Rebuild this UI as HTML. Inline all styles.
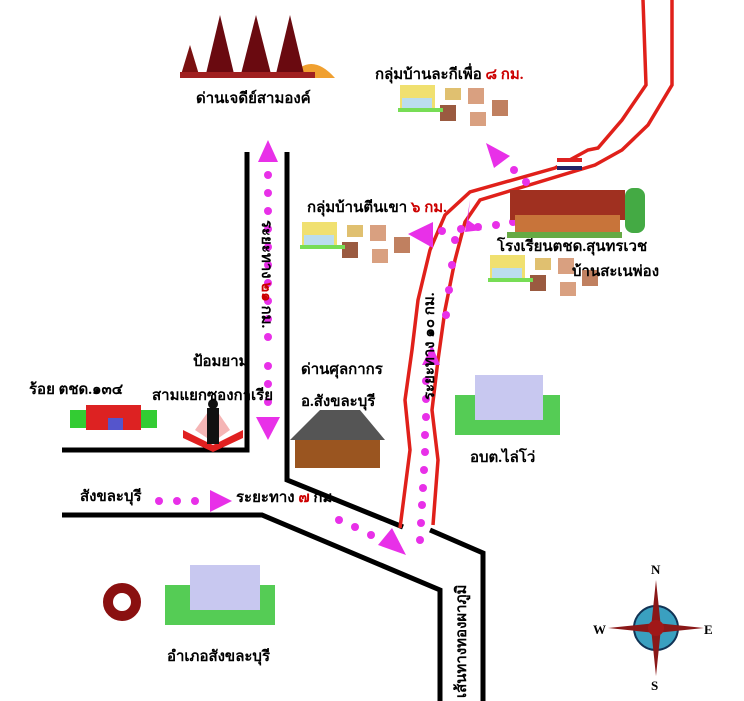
<!DOCTYPE html>
<html><head><meta charset="utf-8"><style>
body{margin:0;background:#fff}
svg{display:block}
text{font-family:"Liberation Serif","Noto Serif CJK SC",serif;font-weight:bold;fill:#000}
</style></head><body>
<svg width="744" height="701" viewBox="0 0 744 701" xmlns="http://www.w3.org/2000/svg">
<g stroke="#000" stroke-width="5" fill="none">
<polyline points="247,152 247,450 62,450"/>
<polyline points="287,152 287,480 403,527"/>
<polyline points="430,530 483,553 483,701"/>
<polyline points="62,515 262,515 440,590 440,701"/>
</g>
<g stroke="#e0201a" stroke-width="3.5" fill="none">
<polyline points="643,0 646,85 622,120 598,148 588,150 555,168 470,192 445,215 430,250 418,300 412,350 405,400 410,450 400,528"/>
<polyline points="672,0 672,85 648,125 622,150 595,165 480,200 465,222 455,260 445,310 438,360 432,410 438,460 433,525"/>
</g>
<g fill="#e830e8">
<circle cx="268" cy="175" r="4"/><circle cx="268" cy="193" r="4"/><circle cx="268" cy="211" r="4"/><circle cx="268" cy="229" r="4"/><circle cx="268" cy="247" r="4"/><circle cx="268" cy="265" r="4"/><circle cx="268" cy="283" r="4"/><circle cx="268" cy="301" r="4"/><circle cx="268" cy="319" r="4"/><circle cx="268" cy="337" r="4"/><circle cx="268" cy="366" r="4"/><circle cx="268" cy="384" r="4"/><circle cx="268" cy="402" r="4"/>
<circle cx="159" cy="501" r="4"/><circle cx="177" cy="501" r="4"/><circle cx="195" cy="501" r="4"/>
<circle cx="339" cy="520" r="4"/><circle cx="355" cy="527" r="4"/><circle cx="371" cy="535" r="4"/>
<circle cx="420" cy="540" r="4"/><circle cx="421" cy="523" r="4"/><circle cx="422" cy="505" r="4"/><circle cx="423" cy="488" r="4"/><circle cx="424" cy="470" r="4"/><circle cx="425" cy="452" r="4"/><circle cx="425" cy="435" r="4"/><circle cx="426" cy="417" r="4"/><circle cx="426" cy="399" r="4"/><circle cx="426" cy="381" r="4"/>
<circle cx="446" cy="315" r="4"/><circle cx="449" cy="290" r="4"/><circle cx="452" cy="265" r="4"/><circle cx="455" cy="240" r="4"/><circle cx="461" cy="229" r="4"/><circle cx="442" cy="231" r="4"/><circle cx="478" cy="227" r="4"/><circle cx="496" cy="225" r="4"/><circle cx="513" cy="222" r="4"/>
<circle cx="514" cy="170" r="4"/><circle cx="526" cy="182" r="4"/>
</g>
<g fill="#e830e8">
<polygon points="268,140 258,162 278,162"/>
<polygon points="256,417 280,417 268,440"/>
<polygon points="210,490 210,512 232,501"/>
<polygon points="378,545 406,555 392,528"/>
<polygon points="422,365 440,365 432,345"/>
<polygon points="408,234 433,222 433,248"/>
<polygon points="468,220 482,230 465,232 470,200"/>
<polygon points="486,143 510,156 494,168"/>
</g>
<g>
<path d="M290,78 Q310,50 335,78 Z" fill="#f0a030"/>
<polygon points="180,78 190,45 200,78" fill="#7a1010"/>
<polygon points="205,78 220,15 235,78" fill="#6a0a10"/>
<polygon points="240,78 256,15 272,78" fill="#6a0a10"/>
<polygon points="275,78 290,15 305,78" fill="#6a0a10"/>
<rect x="180" y="72" width="135" height="6" fill="#a02020"/>
</g>
<g id="v">
<rect x="400" y="85" width="35" height="25" fill="#f0e070"/><rect x="402" y="98" width="30" height="14" fill="#bde"/>
<rect x="445" y="88" width="16" height="12" fill="#e0c070"/><rect x="468" y="88" width="16" height="16" fill="#d9a080"/>
<rect x="440" y="105" width="16" height="16" fill="#9a5a40"/><rect x="470" y="112" width="16" height="14" fill="#d9a080"/><rect x="492" y="100" width="16" height="16" fill="#c08060"/>
<rect x="398" y="108" width="45" height="4" fill="#7d5"/>
</g>
<use href="#v" transform="translate(-98,137)"/>
<use href="#v" transform="translate(90,170)"/>
<rect x="510" y="190" width="115" height="30" fill="#a03020"/>
<rect x="515" y="215" width="105" height="20" fill="#c8743a"/>
<rect x="625" y="188" width="20" height="45" fill="#4a4" rx="8"/>
<rect x="507" y="232" width="115" height="6" fill="#6a4"/>
<rect x="557" y="158" width="25" height="4" fill="#d22"/><rect x="557" y="162" width="25" height="4" fill="#fff"/><rect x="557" y="166" width="25" height="4" fill="#226"/>
<rect x="70" y="410" width="87" height="18" fill="#3c3" /><rect x="86" y="405" width="55" height="25" fill="#d22"/><rect x="108" y="418" width="15" height="12" fill="#55c"/>
<polygon points="183,430 213,445 243,430 243,438 213,452 183,438" fill="#e02020"/>
<polygon points="195,430 213,405 230,430 213,442" fill="#f5b5b5"/>
<rect x="207" y="408" width="12" height="36" fill="#111"/><circle cx="213" cy="404" r="5" fill="#111"/>
<polygon points="290,440 320,410 360,410 385,440" fill="#555"/>
<rect x="295" y="440" width="85" height="28" fill="#9a5520"/>
<rect x="455" y="395" width="105" height="40" fill="#5c5"/><rect x="475" y="375" width="68" height="45" fill="#c8c8f0"/>
<rect x="165" y="585" width="110" height="40" fill="#5c5"/><rect x="190" y="565" width="70" height="45" fill="#c8c8f0"/>
<circle cx="122" cy="602" r="14" fill="none" stroke="#8a1010" stroke-width="10"/>
<g transform="translate(656,628)">
<circle r="22" fill="#3aa0c0" stroke="#135" stroke-width="2"/>
<polygon points="0,-48 5,0 0,48 -5,0" fill="#8a1818"/>
<polygon points="-48,0 0,5 48,0 0,-5" fill="#8a1818"/>
<circle r="8" fill="#a01818"/>
</g>
<g font-size="13">
<text x="651" y="574">N</text><text x="651" y="690">S</text><text x="593" y="634">W</text><text x="704" y="634">E</text>
</g>
<g font-size="15">
<text x="196" y="103">ด่านเจดีย์สามองค์</text>
<text x="375" y="79">กลุ่มบ้านละกีเพื่อ <tspan fill="#c00">๘ กม.</tspan></text>
<text x="307" y="212">กลุ่มบ้านตีนเขา <tspan fill="#c00">๖ กม.</tspan></text>
<text x="497" y="251">โรงเรียนตชด.สุนทรเวช</text>
<text x="572" y="276">บ้านสะเนพ่อง</text>
<text x="193" y="366">ป้อมยาม</text>
<text x="152" y="400">สามแยกซองกาเรีย</text>
<text x="29" y="394">ร้อย ตชด.๑๓๔</text>
<text x="301" y="374">ด่านศุลกากร</text>
<text x="301" y="406">อ.สังขละบุรี</text>
<text x="470" y="462">อบต.ไล่โว่</text>
<text x="80" y="501">สังขละบุรี</text>
<text x="236" y="502">ระยะทาง <tspan fill="#c00">๗</tspan> กม.</text>
<text x="167" y="661">อำเภอสังขละบุรี</text>
<text transform="translate(262,220) rotate(90)">ระยะทาง <tspan fill="#c00">๒๑</tspan> กม.</text>
<text transform="translate(434,400) rotate(-90)">ระยะทาง ๑๐ กม.</text>
<text transform="translate(466,698) rotate(-90)">เส้นทางทองผาภูมิ</text>
</g>
</svg>
</body></html>
